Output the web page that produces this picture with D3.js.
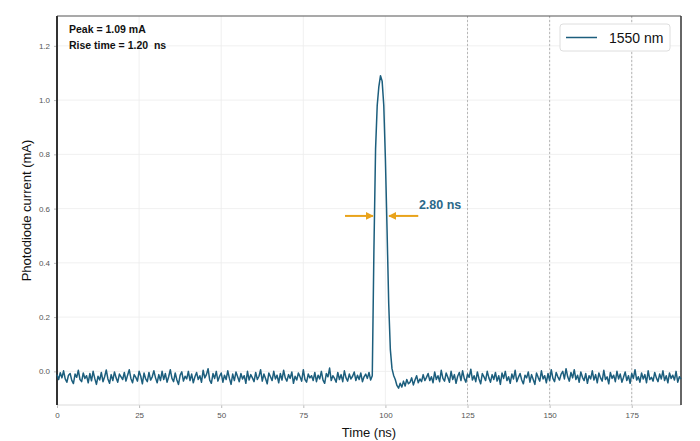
<!DOCTYPE html>
<html lang="en">
<head>
  <meta charset="UTF-8">
  <script src="https://d3js.org/d3.v7.min.js"></script>
  <title>Photodiode pulse</title>
  <style>
    body { margin: 0; background: #fff; }
    svg { display: block; font-family: "Liberation Sans", Arial, sans-serif; }
  </style>
</head>
<body>
  <div id="chart"></div>
  <script>
    // sampling of the trace (ns)
    const t_start = 0;
    const t_step = 0.5;

    // photodiode current (mA), one value per sample
    const current = [
      -0.012, -0.030, -0.005, -0.024, 0.002, -0.028, -0.040, -0.014, -0.008, -0.033, -0.045, -0.010, -0.022, 0.004, -0.030, -0.038, -0.006, -0.026, -0.016, -0.042,
      -0.008, -0.035, 0.000, -0.026, -0.048, -0.018, -0.032, -0.004, -0.038, -0.020, 0.005, -0.028, -0.044, -0.012, -0.034, -0.002, -0.024, -0.040, -0.010, -0.020,
      -0.030, -0.004, -0.036, -0.014, 0.006, -0.026, -0.042, -0.012, -0.022, -0.036, 0.000, -0.018, -0.046, -0.006, -0.028, -0.038, -0.004, -0.032, -0.020, 0.002,
      -0.024, -0.042, -0.012, -0.034, 0.000, -0.030, -0.008, -0.040, -0.020, 0.006, -0.026, -0.038, -0.006, -0.032, -0.048, -0.014, -0.002, -0.036, -0.018, -0.028,
      0.000, -0.034, -0.010, -0.042, -0.020, -0.004, -0.030, -0.016, -0.040, 0.004, -0.024, -0.012, 0.010, -0.032, -0.044, -0.008, -0.026, 0.000, -0.036, -0.018,
      -0.006, -0.040, -0.014, -0.030, 0.002, -0.026, -0.048, -0.010, -0.034, -0.002, -0.020, -0.038, -0.008, -0.028, -0.016, -0.044, 0.000, -0.032, -0.012, -0.024,
      -0.038, -0.004, -0.030, -0.018, 0.006, -0.036, -0.010, -0.026, -0.046, -0.006, -0.020, -0.034, 0.000, -0.028, -0.014, -0.042, -0.008, -0.032, 0.004, -0.024,
      -0.036, -0.012, -0.026, -0.002, -0.044, -0.018, -0.032, -0.006, -0.020, -0.036, 0.006, -0.030, -0.040, -0.010, -0.024, -0.016, -0.034, -0.004, -0.038, -0.014,
      -0.028, 0.000, -0.032, -0.044, -0.008, -0.020, 0.012, -0.034, -0.016, -0.026, -0.040, -0.004, -0.030, -0.012, -0.038, 0.002, -0.024, -0.036, -0.010, -0.028,
      -0.018, -0.002, -0.034, -0.014, -0.030, -0.006, -0.038, -0.020, -0.010, -0.026, -0.004, -0.032, -0.016,
      // pulse
      0.45, 0.82, 0.98, 1.05, 1.09, 1.07, 0.98, 0.78, 0.52, 0.25, 0.08, 0.01, -0.015, -0.030,
      // tail
      -0.052, -0.062, -0.044, -0.058, -0.036, -0.054, -0.030, -0.046, -0.040, -0.024, -0.050, -0.032, -0.016, -0.042, -0.028, -0.038, -0.012, -0.034, -0.022,
      -0.008, -0.034, -0.020, -0.042, -0.002, -0.030, -0.016, -0.038, 0.004, -0.026, -0.036, -0.006, -0.022, -0.040, 0.000, -0.030, -0.012, -0.044, -0.018, -0.004,
      -0.034, 0.002, -0.026, -0.040, -0.010, -0.022, 0.008, -0.032, -0.016, -0.038, -0.002, -0.028, -0.046, -0.008, -0.020, -0.034, 0.000, -0.024, -0.040, -0.012,
      -0.030, -0.004, -0.036, -0.016, -0.048, -0.006, -0.026, 0.000, -0.034, -0.020, -0.044, -0.010, -0.028, 0.004, -0.038, -0.022, -0.008, -0.032, -0.046, -0.014,
      -0.024, -0.002, -0.040, -0.012, -0.030, -0.048, -0.006, -0.022, -0.036, 0.002, -0.028, -0.016, -0.042, -0.008, -0.034, 0.006, -0.026, -0.038, -0.004, -0.020,
      -0.032, -0.010, 0.000, -0.028, 0.010, -0.020, -0.036, -0.004, -0.024, 0.006, -0.030, -0.014, -0.040, -0.002, -0.022, -0.034, -0.008, -0.044, -0.016, -0.028,
      0.002, -0.032, -0.012, -0.042, -0.006, -0.024, -0.036, 0.004, -0.030, -0.020, -0.046, -0.004, -0.026, -0.014, -0.038, 0.000, -0.028, -0.010, -0.040, -0.022,
      -0.002, -0.034, -0.016, -0.044, -0.008, -0.026, 0.006, -0.032, -0.020, -0.040, -0.006, -0.028, -0.012, -0.042, 0.002, -0.030, -0.022, -0.036, -0.004, -0.024,
      -0.038, -0.010, -0.028, 0.002, -0.034, -0.016, -0.042, -0.006, -0.026, -0.014, -0.032, 0.000, -0.040, -0.020, -0.028
    ];

    const x_ticks = [0, 25, 50, 75, 100, 125, 150, 175];
    const x_dashed = [125, 150, 175];
    const y_ticks = [0.0, 0.2, 0.4, 0.6, 0.8, 1.0, 1.2];

    const peak_text = "Peak = 1.09 mA";
    const rise_text = "Rise time = 1.20  ns";
    const fwhm_text = "2.80 ns";
    const fwhm_level = 0.573;
    const fwhm_left = [87.7, 96.2];   // arrow tail, tip (ns)
    const fwhm_right = [110.0, 101.1];
    const legend_label = "1550 nm";

    const width = 700;
    const height = 441;
    const margin = { top: 16, right: 19, bottom: 36, left: 57 };
    const line_color = "#1c5e7d";
    const arrow_color = "#e9a31b";

    const data = current.map((v, i) => ({ t: t_start + i * t_step, v: v }));

    const svg = d3.select("#chart")
      .append("svg")
      .attr("width", width)
      .attr("height", height);

    const x = d3.scaleLinear()
      .domain([0, 190])
      .range([margin.left, width - margin.right]);
    const y = d3.scaleLinear()
      .domain([-0.124, 1.31])
      .range([height - margin.bottom, margin.top]);

    // grid
    svg.append("g")
      .selectAll("line")
      .data(y_ticks)
      .join("line")
      .attr("x1", margin.left).attr("x2", width - margin.right)
      .attr("y1", d => y(d)).attr("y2", d => y(d))
      .attr("stroke", "#ececec").attr("stroke-width", 0.8);
    svg.append("g")
      .selectAll("line")
      .data(x_ticks.slice(1))
      .join("line")
      .attr("x1", d => x(d)).attr("x2", d => x(d))
      .attr("y1", margin.top).attr("y2", height - margin.bottom)
      .attr("stroke", "#ececec").attr("stroke-width", 0.8);
    svg.append("g")
      .selectAll("line")
      .data(x_dashed)
      .join("line")
      .attr("x1", d => x(d)).attr("x2", d => x(d))
      .attr("y1", margin.top).attr("y2", height - margin.bottom)
      .attr("stroke", "#b0b0b0").attr("stroke-width", 0.9)
      .attr("stroke-dasharray", "2,2");

    // axes
    const x_axis = svg.append("g")
      .attr("transform", "translate(0," + (height - margin.bottom) + ")")
      .call(d3.axisBottom(x).tickValues(x_ticks).tickSize(3).tickFormat(d3.format("d")));
    const y_axis = svg.append("g")
      .attr("transform", "translate(" + margin.left + ",0)")
      .call(d3.axisLeft(y).tickValues(y_ticks).tickSize(3).tickFormat(d3.format(".1f")));
    [x_axis, y_axis].forEach(a => {
      a.select(".domain").remove();
      a.selectAll(".tick line").attr("stroke", "#bbb");
      a.selectAll(".tick text")
        .attr("fill", "#555")
        .style("font-size", "8px")
        .style("font-family", "Liberation Sans, Arial, sans-serif");
    });
    y_axis.selectAll(".tick text").attr("x", -7);
    x_axis.selectAll(".tick text").attr("y", 7);

    // frame
    const x0 = margin.left, x1 = width - margin.right;
    const y0 = margin.top, y1 = height - margin.bottom;
    svg.append("line").attr("x1", x0).attr("x2", x1).attr("y1", y1).attr("y2", y1)
      .attr("stroke", "#dcdcdc").attr("stroke-width", 1.2);
    svg.append("line").attr("x1", x0).attr("x2", x1).attr("y1", y0).attr("y2", y0)
      .attr("stroke", "#555").attr("stroke-width", 1.2);
    svg.append("line").attr("x1", x1).attr("x2", x1).attr("y1", y0).attr("y2", y1)
      .attr("stroke", "#333").attr("stroke-width", 1.5);
    svg.append("line").attr("x1", x0).attr("x2", x0).attr("y1", y0).attr("y2", y1)
      .attr("stroke", "#333").attr("stroke-width", 2);

    // trace
    const line = d3.line()
      .x(d => x(d.t))
      .y(d => y(d.v));
    svg.append("path")
      .datum(data)
      .attr("fill", "none")
      .attr("stroke", line_color)
      .attr("stroke-width", 1.5)
      .attr("stroke-linejoin", "round")
      .attr("d", line);

    // fwhm arrows
    svg.append("defs").append("marker")
      .attr("id", "head")
      .attr("viewBox", "0 0 10 10")
      .attr("refX", 9).attr("refY", 5)
      .attr("markerWidth", 4).attr("markerHeight", 4)
      .attr("orient", "auto")
      .append("path")
      .attr("d", "M0,0 L10,5 L0,10 z")
      .attr("fill", arrow_color);
    [fwhm_left, fwhm_right].forEach(a => {
      svg.append("line")
        .attr("x1", x(a[0])).attr("x2", x(a[1]))
        .attr("y1", y(fwhm_level)).attr("y2", y(fwhm_level))
        .attr("stroke", arrow_color)
        .attr("stroke-width", 2)
        .attr("marker-end", "url(#head)");
    });
    svg.append("text")
      .attr("x", x(110.2))
      .attr("y", y(fwhm_level) - 7)
      .attr("fill", "#2b6889")
      .attr("font-weight", "bold")
      .attr("font-size", 12.5)
      .text(fwhm_text);

    // info text
    svg.append("text")
      .attr("x", 69).attr("y", 33)
      .attr("font-weight", "bold").attr("font-size", 10.5).attr("fill", "#111")
      .text(peak_text);
    svg.append("text")
      .attr("x", 69).attr("y", 49)
      .attr("font-weight", "bold").attr("font-size", 10.5).attr("fill", "#111")
      .style("white-space", "pre")
      .text(rise_text);

    // axis titles
    svg.append("text")
      .attr("x", (x0 + x1) / 2).attr("y", 437)
      .attr("text-anchor", "middle")
      .attr("font-size", 13).attr("fill", "#111")
      .text("Time (ns)");
    svg.append("text")
      .attr("transform", "translate(31," + ((y0 + y1) / 2) + ") rotate(-90)")
      .attr("text-anchor", "middle")
      .attr("font-size", 13).attr("fill", "#111")
      .text("Photodiode current (mA)");

    // legend
    const legend = svg.append("g").attr("transform", "translate(560,24)");
    legend.append("rect")
      .attr("width", 110).attr("height", 27).attr("rx", 3)
      .attr("fill", "#fff").attr("stroke", "#dedede");
    legend.append("line")
      .attr("x1", 6).attr("x2", 37).attr("y1", 13.5).attr("y2", 13.5)
      .attr("stroke", line_color).attr("stroke-width", 1.5);
    legend.append("text")
      .attr("x", 49).attr("y", 19)
      .attr("font-size", 14).attr("fill", "#111")
      .text(legend_label);
  </script>
</body>
</html>
